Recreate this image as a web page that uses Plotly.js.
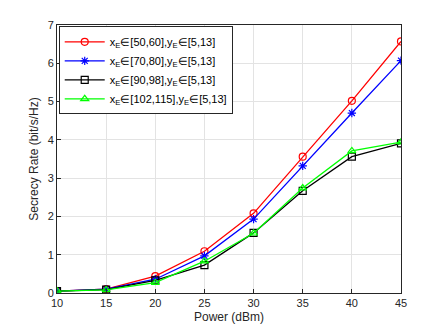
<!DOCTYPE html>
<html>
<head>
<meta charset="utf-8">
<script src="https://cdn.plot.ly/plotly-3.0.1.min.js"></script>
<style>
  html, body { margin: 0; padding: 0; background: #fff; }
  #chart { width: 443px; height: 333px; }
</style>
</head>
<body>
<div id="chart"></div>
<script>
// Transmit power (dBm)
const power = [10, 15, 20, 25, 30, 35, 40, 45];

// Secrecy rate for each eavesdropper region
const rate50to60 = [0.05, 0.10, 0.44, 1.09, 2.08, 3.56, 5.02, 6.57];
const rate70to80 = [0.05, 0.10, 0.36, 0.97, 1.93, 3.32, 4.70, 6.07];
const rate90to98 = [0.05, 0.09, 0.33, 0.73, 1.57, 2.67, 3.56, 3.91];
const rate102to115 = [0.05, 0.08, 0.27, 0.83, 1.56, 2.74, 3.71, 3.94];

const seriesNames = [
  "x<sub>E</sub>∈[50,60],y<sub>E</sub>∈[5,13]",
  "x<sub>E</sub>∈[70,80],y<sub>E</sub>∈[5,13]",
  "x<sub>E</sub>∈[90,98],y<sub>E</sub>∈[5,13]",
  "x<sub>E</sub>∈[102,115],y<sub>E</sub>∈[5,13]"
];

const xTicks = [10, 15, 20, 25, 30, 35, 40, 45];
const yTicks = [0, 1, 2, 3, 4, 5, 6, 7];

function makeTrace(y, name, color, symbol) {
  return {
    x: power, y: y, name: name,
    type: "scatter", mode: "lines+markers",
    line: { color: color, width: 1.3 },
    marker: { symbol: symbol, size: 7, color: color, line: { color: color, width: 1.2 } }
  };
}

const traces = [
  makeTrace(rate50to60, seriesNames[0], "#ff0000", "circle-open"),
  makeTrace(rate70to80, seriesNames[1], "#0000ff", "asterisk-open"),
  makeTrace(rate90to98, seriesNames[2], "#000000", "square-open"),
  makeTrace(rate102to115, seriesNames[3], "#00ff00", "triangle-up-open")
];

const axisBase = {
  showline: true, mirror: true, linecolor: "#262626", linewidth: 1,
  showgrid: true, gridcolor: "#e3e3e3", gridwidth: 1,
  zeroline: false, ticks: "inside", ticklen: 4, tickcolor: "#262626",
  tickfont: { size: 11, color: "#262626" }
};

const layout = {
  width: 443, height: 333,
  margin: { l: 57, r: 42, t: 25, b: 40 },
  paper_bgcolor: "#ffffff", plot_bgcolor: "#ffffff",
  font: { family: "Liberation Sans, Arial, sans-serif", color: "#262626" },
  showlegend: true,
  legend: {
    x: 0.005, y: 0.995, xanchor: "left", yanchor: "top",
    bgcolor: "#ffffff", bordercolor: "#262626", borderwidth: 1,
    font: { size: 11, color: "#000" },
    tracegroupgap: 0, itemwidth: 40
  },
  xaxis: Object.assign({}, axisBase, {
    range: [10, 45], tickvals: xTicks,
    title: { text: "Power (dBm)", font: { size: 12 }, standoff: 4 }
  }),
  yaxis: Object.assign({}, axisBase, {
    range: [0, 7], tickvals: yTicks,
    title: { text: "Secrecy Rate (bit/s/Hz)", font: { size: 12 }, standoff: 6 }
  })
};

Plotly.newPlot("chart", traces, layout, { displayModeBar: false, staticPlot: true });
</script>
</body>
</html>
